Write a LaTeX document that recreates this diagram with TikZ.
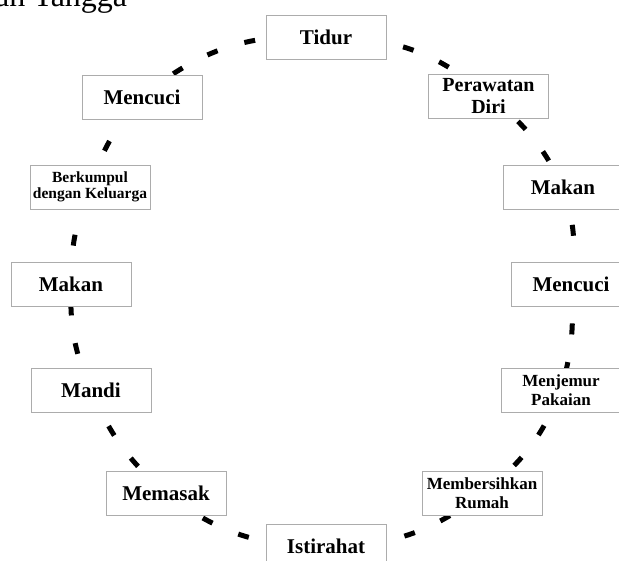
\documentclass[tikz,border=0pt]{standalone}
\usepackage{fontspec}
\setmainfont{Liberation Serif}
\usetikzlibrary{backgrounds}
\tikzset{
  actbox/.style={draw=gray!65, line width=0.8pt, fill=white, minimum width=120pt, minimum height=44pt, inner sep=1pt, align=center, font=\bfseries\fontsize{21}{24}\selectfont},
  smallfont/.style={font=\bfseries\fontsize{17}{19}\selectfont},
  tinyfont/.style={font=\bfseries\fontsize{15.5}{16.5}\selectfont},
  midfont/.style={font=\bfseries\fontsize{20}{22}\selectfont},
  cyc/.style={line width=5pt, dash pattern=on 11pt off 28pt, black},
  title/.style={font=\fontsize{32}{36}\selectfont, anchor=base west, inner sep=0pt}
}
\begin{document}
\begin{tikzpicture}[x=1pt,y=1pt]
\useasboundingbox (0,0) rectangle (619,561);
\node[title] (ttl) at (-5,554) {an Tangga};
\node[actbox] (tidur) at (326,524) {Tidur};
\node[actbox,midfont] (rawat) at (488.5,465) {Perawatan\\Diri};
\node[actbox] (makanr) at (563,374) {Makan};
\node[actbox] (cucir) at (571,276.5) {Mencuci};
\node[actbox,smallfont] (jemur) at (561,170.5) {Menjemur\\Pakaian};
\node[actbox,smallfont] (bersih) at (482,67.5) {Membersihkan\\Rumah};
\node[actbox] (istirahat) at (326,15) {Istirahat};
\node[actbox] (masak) at (166,67.5) {Memasak};
\node[actbox] (mandi) at (91,170.5) {Mandi};
\node[actbox] (makanl) at (71,276.5) {Makan};
\node[actbox,tinyfont] (kumpul) at (90,374) {Berkumpul\\dengan Keluarga};
\node[actbox] (cucil) at (142,464) {Mencuci};
\begin{scope}[on background layer]
\draw[cyc] (tidur.center) to[bend left=20] (rawat.center);
\draw[cyc] (rawat.center) to[bend left=13] (makanr.center);
\draw[cyc] (makanr.center) to[bend left=13] (cucir.center);
\draw[cyc] (cucir.center) to[bend left=10] (jemur.center);
\draw[cyc] (jemur.center) to[bend left=15] (bersih.center);
\draw[cyc] (bersih.center) to[bend left=19] (istirahat.center);
\draw[cyc] (istirahat.center) to[bend left=19] (masak.center);
\draw[cyc] (masak.center) to[bend left=12.5] (mandi.center);
\draw[cyc] (mandi.center) to[bend left=12.5] (makanl.center);
\draw[cyc] (makanl.center) to[bend left=11] (kumpul.center);
\draw[cyc] (kumpul.center) to[bend left=11.5] (cucil.center);
\draw[cyc] (cucil.center) to[bend left=21.5] (tidur.center);
\end{scope}
\end{tikzpicture}
\end{document}
